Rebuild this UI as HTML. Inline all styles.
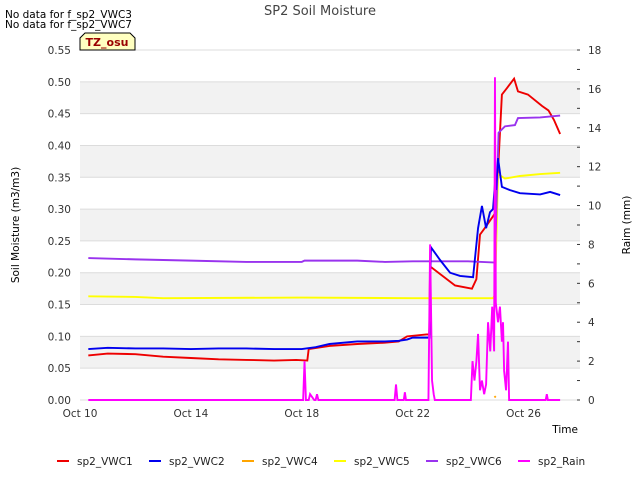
<!DOCTYPE html>
<html><head><meta charset="utf-8"><style>
body{margin:0;background:#fff;font-family:"DejaVu Sans","Liberation Sans",sans-serif;}
svg text{font-family:"DejaVu Sans","Liberation Sans",sans-serif;}
</style></head><body>
<svg id="c" width="640" height="480">
<text x="5" y="18" font-size="10.5">No data for f_sp2_VWC3</text>
<text x="5" y="28" font-size="10.5">No data for f_sp2_VWC7</text>
<text x="320" y="15" font-size="13" fill="#444" text-anchor="middle">SP2 Soil Moisture</text>
<g id="plot"></g>
<text transform="translate(19,225) rotate(-90)" font-size="10.5" text-anchor="middle">Soil Moisture (m3/m3)</text>
<text transform="translate(630,225) rotate(-90)" font-size="10.5" text-anchor="middle">Raim (mm)</text>
<text x="578" y="433" font-size="10.5" text-anchor="end">Time</text>
<g id="legend"></g>
<g>
<path d="M80,50 L80,38 L85,33 L130,33 L135,38 L135,50 Z" fill="#ffffc0" stroke="#000" stroke-width="1"/>
<text x="107" y="46" font-size="11" font-weight="bold" fill="#990000" text-anchor="middle">TZ_osu</text>
</g>
</svg>
<script>
const xTicks=["Oct 10","Oct 14","Oct 18","Oct 22","Oct 26"];
const xTickDays=[0,4,8,12,16];
const yTicks=[0,0.05,0.10,0.15,0.20,0.25,0.30,0.35,0.40,0.45,0.50,0.55];
const y2Ticks=[0,2,4,6,8,10,12,14,16,18];
const vwc1Day=[0.3,1,2,3,4,5,6,7,7.8,8.2,8.25,9,10,11,11.5,11.8,12.5,12.6,12.63,13.53,14.14,14.3,14.43,14.6,15.0,15.08,15.22,15.4,15.66,15.8,16.16,16.67,16.9,17.1,17.32];
const vwc1Val=[0.070,0.073,0.072,0.068,0.066,0.064,0.063,0.062,0.063,0.062,0.080,0.085,0.088,0.090,0.092,0.100,0.103,0.103,0.210,0.180,0.175,0.190,0.260,0.270,0.295,0.360,0.480,0.490,0.505,0.485,0.480,0.462,0.455,0.440,0.418];
const vwc2Day=[0.3,1,2,3,4,5,6,7,8,8.5,9,10,11,11.5,11.8,12,12.5,12.6,12.66,12.99,13.35,13.71,14.18,14.36,14.5,14.65,14.79,14.9,14.97,15.01,15.08,15.22,15.5,15.87,16.6,16.96,17.32];
const vwc2Val=[0.080,0.082,0.081,0.081,0.080,0.081,0.081,0.080,0.080,0.083,0.088,0.092,0.092,0.093,0.095,0.098,0.098,0.098,0.240,0.220,0.200,0.195,0.193,0.270,0.305,0.270,0.295,0.300,0.340,0.330,0.380,0.335,0.330,0.325,0.323,0.327,0.322];
const vwc4Day=[14.95,15.0];
const vwc4Val=[0.004,0.006];
const vwc5Day=[0.3,2,3,8,12,14.9,14.97,15.08,15.33,15.87,16.6,17.32];
const vwc5Val=[0.163,0.162,0.160,0.161,0.160,0.160,0.165,0.355,0.348,0.352,0.355,0.357];
const vwc6Day=[0.3,2,4,6,8,8.1,10,11,12,14,14.97,15.1,15.33,15.69,15.8,16.6,17.32];
const vwc6Val=[0.223,0.221,0.219,0.217,0.217,0.219,0.219,0.217,0.218,0.218,0.216,0.420,0.430,0.432,0.443,0.444,0.447];
const rainDay=[0.3,8.05,8.1,8.15,8.25,8.3,8.45,8.5,8.55,8.6,8.65,11.35,11.4,11.45,11.68,11.72,11.76,12.57,12.63,12.7,12.76,12.8,14.1,14.16,14.23,14.3,14.36,14.43,14.5,14.58,14.65,14.72,14.8,14.87,14.94,14.97,15.0,15.04,15.08,15.15,15.22,15.26,15.3,15.37,15.44,15.48,15.55,15.62,15.7,16.8,16.84,16.88,17.32];
const rainVal=[0,0,2.0,0,0,0.3,0,0,0.3,0,0,0,0.8,0,0,0.4,0,0,8.0,1.0,0.3,0,0,2.0,1.0,2.0,3.4,0.5,1.0,0.3,0.8,4.0,2.5,4.8,2.5,16.6,5.0,4.5,4.0,4.8,3.0,4.0,1.5,0.5,3.0,0,0,0,0,0,0.3,0,0];
const NS="http://www.w3.org/2000/svg";
const L=80,R=580,T=50,B=400;
const xs=d=>L+d*27.72;
const ys=v=>B-v/0.55*(B-T);
const y2s=v=>B-v/18*(B-T);
const plot=document.getElementById('plot');
function mk(tag,attrs,parent){const e=document.createElementNS(NS,tag);for(const k in attrs)e.setAttribute(k,attrs[k]);(parent||plot).appendChild(e);return e;}
for(let i=1;i<yTicks.length-1;i+=2){
  const b=mk('rect',{x:L,y:ys(yTicks[i+1]),width:R-L,height:ys(yTicks[i])-ys(yTicks[i+1]),fill:'#f2f2f2'});
  
  
}
yTicks.forEach(v=>{
  const g=mk('line',{x1:L,x2:R,y1:ys(v),y2:ys(v),stroke:'#dcdcdc','stroke-width':1});
  
  
  const t=mk('text',{x:L-9,y:ys(v)+4,'font-size':10.5,'text-anchor':'end',fill:'#333'});
  t.textContent=v.toFixed(2);
  
  
});
y2Ticks.forEach(v=>{
  const t=mk('text',{x:R+8,y:y2s(v)+4,'font-size':10.5,fill:'#333'});
  t.textContent=v;
  
  
});
for(let v=0;v<=18;v++){mk('line',{x1:R-3,x2:R,y1:y2s(v),y2:y2s(v),stroke:'#333'});}
xTicks.forEach((s,i)=>{
  const t=mk('text',{x:xs(xTickDays[i]),y:B+17,'font-size':10.5,'text-anchor':'middle',fill:'#333'});
  t.textContent=s;
  
  
});
function series(days,vals,color,name,sc){
  const p=mk('polyline',{points:days.map((d,i)=>xs(d)+','+sc(vals[i])).join(' '),fill:'none',stroke:color,'stroke-width':1.9});
  
  
}
series(vwc1Day,vwc1Val,'#ee0000','sp2-vwc1-line',ys);
series(vwc4Day,vwc4Val,'#ffa500','sp2-vwc4-line',ys);
series(vwc5Day,vwc5Val,'#ffff00','sp2-vwc5-line',ys);
series(vwc6Day,vwc6Val,'#9933ee','sp2-vwc6-line',ys);
series(vwc2Day,vwc2Val,'#0000ee','sp2-vwc2-line',ys);
series(rainDay,rainVal,'#ff00ff','sp2-rain-line',y2s);
const leg=document.getElementById('legend');
const items=[['sp2_VWC1','#ee0000',57],['sp2_VWC2','#0000ee',149],['sp2_VWC4','#ffa500',242],['sp2_VWC5','#ffff00',334],['sp2_VWC6','#9933ee',426],['sp2_Rain','#ff00ff',518]];
items.forEach(it=>{
  const g=mk('g',{},leg);
  
  
  mk('line',{x1:it[2],x2:it[2]+12,y1:461,y2:461,stroke:it[1],'stroke-width':2},g);
  const t=mk('text',{x:it[2]+20,y:465,'font-size':10.5,fill:'#222'},g);
  t.textContent=it[0];
});
</script>
</body></html>
